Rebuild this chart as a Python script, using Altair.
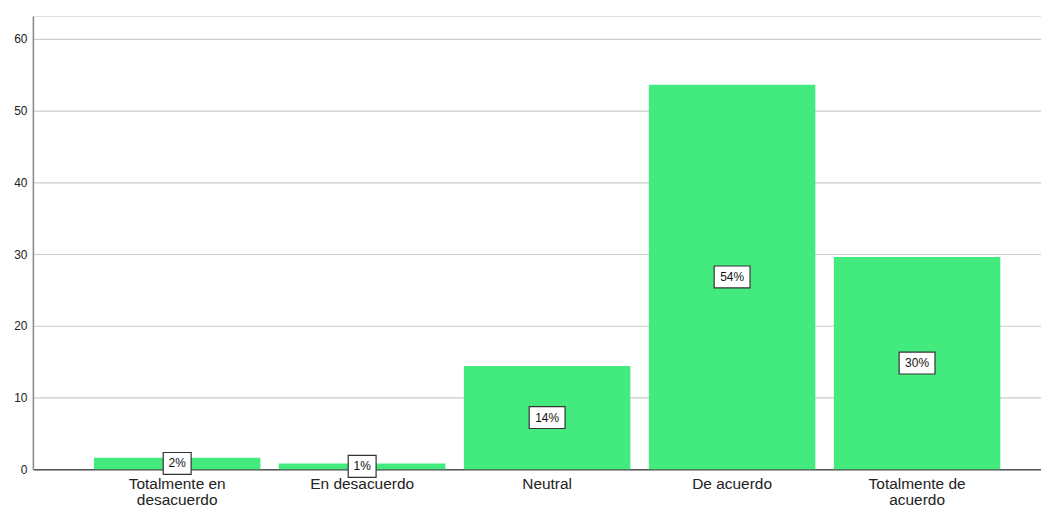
import altair as alt
import pandas as pd

categories = ["Totalmente en desacuerdo", "En desacuerdo", "Neutral", "De acuerdo", "Totalmente de acuerdo"]
percent_values = [1.6, 0.8, 14.4, 53.6, 29.6]
labels = ["2%", "1%", "14%", "54%", "30%"]

df = pd.DataFrame({"cat": categories, "val": percent_values, "label": labels})

x_enc = alt.X(
    "cat:N",
    sort=categories,
    scale=alt.Scale(paddingInner=0.1, paddingOuter=0.275, align=0.6),
    axis=alt.Axis(
        title=None,
        labelAngle=0,
        ticks=False,
        domain=True,
        domainColor="#555555",
        domainWidth=1.5,
        labelFont="Liberation Sans",
        labelFontSize=15.5,
        labelColor="#222222",
        labelPadding=7,
        labelLineHeight=16,
        labelLimit=300,
        labelExpr="length(split(datum.label,' '))==3 ? [join(slice(split(datum.label,' '),0,2),' '), split(datum.label,' ')[2]] : datum.label",
    ),
)

y_scale = alt.Scale(domain=[0, 63.2], nice=False)

bars = alt.Chart(df).mark_bar(color="#43EB7F").encode(
    x=x_enc,
    y=alt.Y(
        "val:Q",
        scale=y_scale,
        axis=alt.Axis(
            title=None,
            values=[0, 10, 20, 30, 40, 50, 60],
            ticks=False,
            grid=True,
            gridColor="#cccccc",
            gridWidth=1.2,
            domainColor="#888888",
            domainWidth=1.5,
            labelFont="Liberation Sans",
            labelFontSize=12,
            labelColor="#222222",
            labelPadding=6,
        ),
    ),
)

boxes = (
    alt.Chart(df)
    .transform_calculate(
        lo="datum.val / 2 - 1.53",
        hi="datum.val / 2 + 1.53",
        boxw="length(datum.label) * 8 + 12",
    )
    .mark_bar(fill="white", stroke="#333333", strokeWidth=1.2)
    .encode(
        x=alt.X("cat:N", sort=categories),
        y=alt.Y("lo:Q", scale=y_scale),
        y2="hi:Q",
        size=alt.Size("boxw:Q", scale=None, legend=None),
    )
)

texts = (
    alt.Chart(df)
    .transform_calculate(mid="datum.val / 2")
    .mark_text(font="Liberation Sans", fontSize=12, color="#111111", baseline="middle", align="center")
    .encode(
        x=alt.X("cat:N", sort=categories),
        y=alt.Y("mid:Q", scale=y_scale),
        text="label:N",
    )
)

chart = (
    alt.layer(bars, boxes, texts)
    .properties(
        width=1012,
        height=455,
        autosize=alt.AutoSizeParams(type="none"),
        padding={"left": 25, "top": 7, "right": 0, "bottom": 40},
    )
    .configure_view(stroke=None)
    .configure(background="white")
)

chart.save("out.html", embed_options={"renderer": "svg", "actions": False})
